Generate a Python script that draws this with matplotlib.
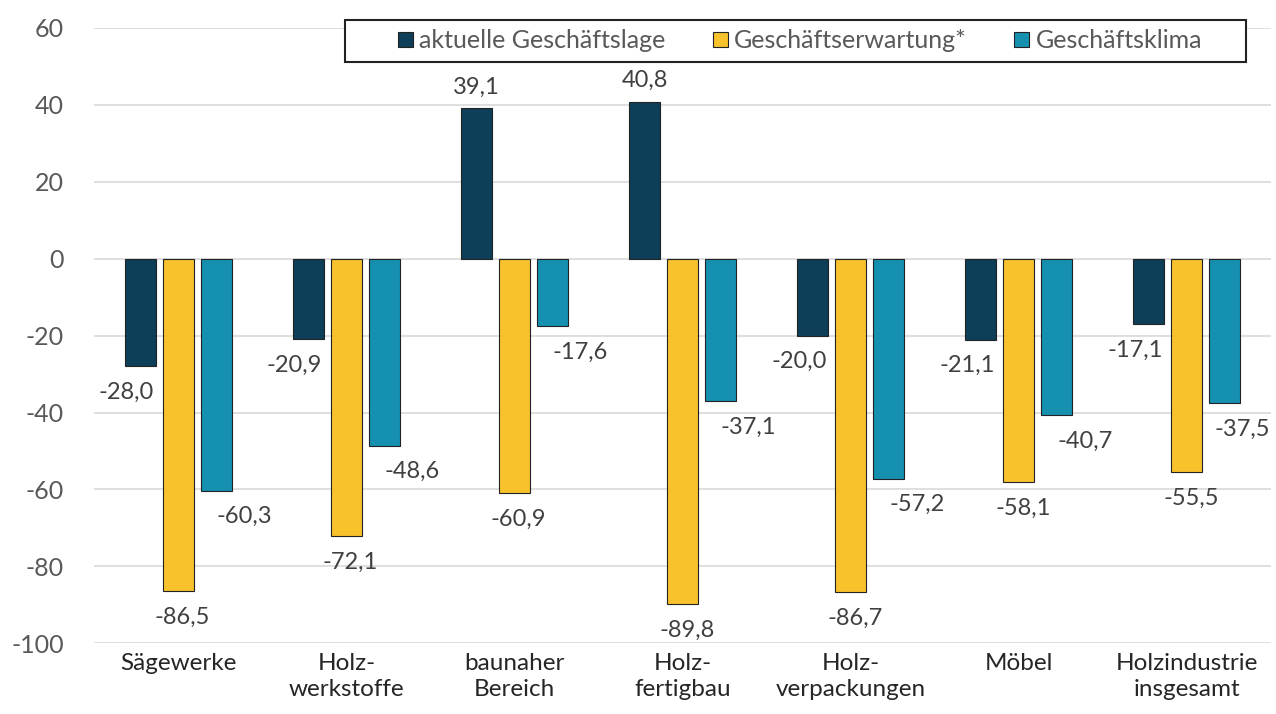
import numpy as np
import matplotlib.pyplot as plt
from matplotlib.patches import Rectangle

plt.rcParams['font.family'] = ['Lato', 'DejaVu Sans']
plt.rcParams['axes.unicode_minus'] = False

kategorien = ['Sägewerke', 'Holz-\nwerkstoffe', 'baunaher\nBereich', 'Holz-\nfertigbau',
              'Holz-\nverpackungen', 'Möbel', 'Holzindustrie\ninsgesamt']
geschaeftslage = [-28.0, -20.9, 39.1, 40.8, -20.0, -21.1, -17.1]
geschaeftserwartung = [-86.5, -72.1, -60.9, -89.8, -86.7, -58.1, -55.5]
geschaeftsklima = [-60.3, -48.6, -17.6, -37.1, -57.2, -40.7, -37.5]

serien = [
    ('aktuelle Geschäftslage', geschaeftslage, '#0e3f58', -14),
    ('Geschäftserwartung*', geschaeftserwartung, '#f7c22c', 4),
    ('Geschäftsklima', geschaeftsklima, '#1690b0', 28),
]

fig = plt.figure(figsize=(12.76, 7.14), dpi=100)
ax = fig.add_axes([0.074, 0.099, 0.922, 0.862])

x = np.arange(len(kategorien))
breite = 0.185
abstand = 0.226

beschriftungen = []
for i, (name, werte, farbe, dx) in enumerate(serien):
    pos = x + (i - 1) * abstand
    ax.bar(pos, werte, breite, color=farbe, edgecolor='#222222', linewidth=0.8,
           label=name, zorder=3)
    for xp, w in zip(pos, werte):
        txt = f'{w:.1f}'.replace('.', ',')
        off = (0, 21) if w >= 0 else (dx, -26)
        t = ax.annotate(txt, (xp, w), xytext=off, textcoords='offset pixels',
                        ha='center', va='center', fontsize=17, color='#404040',
                        annotation_clip=False)
        beschriftungen.append((t, off))

ax.set_xlim(-0.5, len(kategorien) - 0.5)
ax.set_ylim(-100, 60)
ax.set_yticks(np.arange(-100, 61, 20))
ax.set_xticks(x)
ax.set_xticklabels(kategorien, fontsize=17.5, color='#262626', linespacing=1.3)
ax.tick_params(axis='both', length=0)
ax.tick_params(axis='y', colors='#595959', labelsize=18, pad=22)
ax.tick_params(axis='x', pad=7)
ax.yaxis.grid(True, color='#d9d9d9', linewidth=1.2, zorder=0)
for s in ax.spines.values():
    s.set_visible(False)

# Legendenrahmen separat, damit links und rechts mehr Luft bleibt
rahmen = Rectangle((0.2134, 0.9447), 0.7654, 0.0683, transform=ax.transAxes,
                   facecolor='white', edgecolor='#222222', linewidth=1.5,
                   clip_on=False, zorder=4)
ax.add_patch(rahmen)
leg = ax.legend(loc='center', bbox_to_anchor=(0.5995, 0.979), ncol=3,
                frameon=False, fontsize=18, handlelength=0.6, handleheight=0.6,
                handletextpad=0.25, columnspacing=1.9, borderpad=0,
                borderaxespad=0, labelcolor='#595959')
leg.set_zorder(5)

# Beschriftungen, die rechts aus dem Bild ragen, etwas nach links schieben
fig.canvas.draw()
breite_px = fig.bbox.width
for t, off in beschriftungen:
    bb = t.get_window_extent()
    if bb.x1 > breite_px - 4:
        t.set_position((off[0] - (bb.x1 - breite_px + 6), off[1]))

fig.savefig('out.png', dpi=100)
